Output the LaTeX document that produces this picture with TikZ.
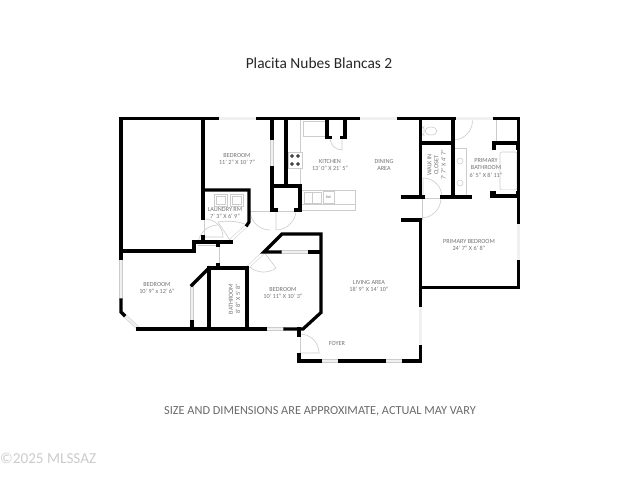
\documentclass[tikz,border=0pt]{standalone}
\usepackage{fontspec}
\setmainfont{Carlito}
\definecolor{lbl}{gray}{0.45}
\definecolor{fix}{gray}{0.80}
\tikzset{
 wall/.style={line width=3.2pt,black,line cap=rect,line join=miter},
 win/.style={draw=fix,line width=.5pt,double=black!6,double distance=2.6pt},
 jamb/.style={draw=fix,line width=.5pt,double=white,double distance=2pt},
 fixture/.style={draw=fix,line width=.6pt},
 room/.style={text=lbl,font=\fontsize{6.2}{7.2}\selectfont,align=center,inner sep=0pt},
}
\newcommand{\wn}[2]{\draw[win] (#1) -- (#2);}
\newcommand{\jb}[2]{\draw[jamb] (#1) -- (#2);}
\begin{document}
\begin{tikzpicture}[x=1pt,y=-1pt]
\useasboundingbox (0,0) rectangle (640,480);
\fill[white] (0,0) rectangle (640,480);
% windows
\wn{217,118.5}{258,118.5}
\wn{358,118.5}{399,118.5}
\wn{454,118.5}{495,118.5}
\wn{121,258}{121,300}
\wn{123,314}{138,328}
\wn{265,329}{285,329}
\wn{320,361}{340,361}
\wn{384,361}{404,361}
\wn{420.5,305}{420.5,347}
\wn{280,252}{310,252}
\wn{192,285}{192,322}
\wn{272,138}{272,168}
\wn{518.5,222}{518.5,262}
% door jamb lines
\jb{218,245}{218,265}
\jb{299,335}{299,355}
\jb{250,210}{272,210}
\jb{276,210}{296,210}
\jb{423,197}{442,197}
\jb{247,225}{231,240}
\jb{264,252}{247,268}
\jb{203,218}{203,237}
\jb{421,197}{421,220}
% door leaves
\begin{scope}[fixture]
\draw (296,210) arc[start angle=0,end angle=90,radius=20] -- (276,210);
\draw (342,138) -- (342,150) arc[start angle=90,end angle=180,radius=12];
\draw (423,197) -- (423,178) arc[start angle=-90,end angle=0,radius=19];
\draw (421,218) arc[start angle=90,end angle=0,radius=20];
\draw (453,120) -- (453,140) arc[start angle=90,end angle=0,radius=19.5];
\draw (250,210) arc[start angle=180,end angle=90,radius=20];
\draw (205,237) -- (223,237) arc[start angle=0,end angle=-90,radius=18];
\draw (230,240) -- (218,222);
\draw (218,222) .. controls (230,220) and (241,222) .. (247,225);
\draw (198,245) -- (218,245);
\draw (198,245) arc[start angle=180,end angle=270,radius=20];
\draw (264,252) -- (276,268);
\draw (276,268) .. controls (268,274) and (257,273) .. (250,267);
\draw (299,353) -- (319,353) arc[start angle=0,end angle=-90,radius=19];
% kitchen
\draw (300.7,120) -- (300.7,188);
\draw (303,121) rectangle (325,136);
\draw (301,190) rectangle (355,210);
\draw (301,204) -- (355,204);
\draw (304,192) rectangle (321,203);
\draw (312.5,192) -- (312.5,203);
\draw (323,191) rectangle (334,203);
% primary bath
\draw (454,148) rectangle (466,195);
\draw (460,161) circle[radius=3];
\draw (460,183) circle[radius=3];
\draw[rounded corners=2pt] (500,152) rectangle (517,190);
\draw (496,120) -- (496,141);
% laundry
\draw (214,194) rectangle (227,206);
\draw (230,194) rectangle (243,206);
\draw (216,196) rectangle (225,204);
\draw (232,196) rectangle (241,204);
% toilet
\draw[rounded corners=2pt] (421.5,127) rectangle (424,135);
\draw (431,131) ellipse[x radius=6,y radius=4];
\end{scope}
\node[inner sep=0pt,font=\fontsize{3.6}{4}\selectfont,text=lbl] (dw) at (328.5,197) {DW};
% stove
\draw[draw=fix,line width=.6pt,fill=white] (288,152) rectangle (302,168);
\foreach \x/\y in {292/156,298/156,292/164,298/164}{\draw[black,line width=.7pt] (\x,\y) circle[radius=1.4];}
% walls
\begin{scope}[wall]
\draw (217,118.5) -- (121,118.5) -- (121,258);
\draw (121,251) -- (194,251) -- (194,242) -- (231,242);
\draw (121,300) -- (121,312) -- (124,315);
\draw (138,329) -- (265,329);
\draw (285,329) -- (303,329) -- (321,312.5) -- (321,234) -- (282,234) -- (264,252) -- (280,252);
\draw (310,252) -- (320,252);
\draw (209,329) -- (209,268) -- (247,268) -- (247,329);
\draw (209,268) -- (192,285);
\draw (192,322) -- (192,329);
\draw (203,118.5) -- (203,218);
\draw (203,237) -- (203,242);
\draw (203,190) -- (249,190) -- (249,222) -- (247,225);
\draw (218,242) -- (218,245);
\draw (218,265) -- (218,268);
\draw (258,118.5) -- (358,118.5);
\draw (272,118.5) -- (272,138);
\draw (272,168) -- (272,210) -- (276,210);
\draw (286,118.5) -- (286,186);
\draw (272,186) -- (300,186) -- (300,210) -- (296,210);
\draw (327,118.5) -- (327,137.5) -- (330,137.5);
\draw (345,118.5) -- (345,137.5) -- (342,137.5);
\draw (399,118.5) -- (454,118.5);
\draw (495,118.5) -- (518.5,118.5) -- (518.5,222);
\draw (420.5,118.5) -- (420.5,197);
\draw (403,197) -- (423,197);
\draw (442,197) -- (470,197);
\draw (453,118.5) -- (453,197);
\draw (420.5,143) -- (453,143);
\draw (403,220) -- (420.5,220) -- (420.5,305);
\draw (420.5,287.5) -- (518.5,287.5) -- (518.5,262);
\draw (420.5,347) -- (420.5,361) -- (404,361);
\draw (384,361) -- (340,361);
\draw (320,361) -- (299,361) -- (299,355);
\draw (299,335) -- (299,329);
\end{scope}
\fill (492,141) rectangle (518,150);
\fill (490,191) rectangle (518,198);
\fill[white] (496,145) rectangle (516,150);
\fill[white] (496,190) rectangle (516,194);
% labels
\node[font=\fontsize{15.4}{18}\selectfont,text=black!85,inner sep=0pt] (title) at (319,63.5) {Placita Nubes Blancas 2};
\node[font=\fontsize{12.3}{14}\selectfont,text=black!58,inner sep=0pt] (note) at (320,411.5) {SIZE AND DIMENSIONS ARE APPROXIMATE, ACTUAL MAY VARY};
\node[font=\fontsize{15.2}{16}\selectfont,text=black!20,inner sep=0pt,anchor=west] (copy) at (0,458) {©2025 MLSSAZ};
\node[room] (r1) at (237,159) {BEDROOM\\11' 2" X 10' 7"};
\node[room] (r2) at (330,165) {KITCHEN\\13' 0" X 21' 5"};
\node[room] (r3) at (384,165) {DINING\\AREA};
\node[room,rotate=90] (r4) at (436.5,165) {WALK IN\\CLOSET\\7' 7" X 4' 7"};
\node[room] (r5) at (486,168) {PRIMARY\\BATHROOM\\6' 5" X 8' 11"};
\node[room] (r6) at (225,213) {LAUNDRY RM\\7' 3" X 6' 9"};
\node[room] (r7) at (469,245) {PRIMARY BEDROOM\\24' 7" X 6' 8"};
\node[room] (r8) at (369,286) {LIVING AREA\\18' 9" X 14' 10"};
\node[room] (r9) at (337,343.5) {FOYER};
\node[room] (r10) at (157,288) {BEDROOM\\10' 9" x 12' 6"};
\node[room] (r11) at (283,293) {BEDROOM\\10' 11" X 10' 3"};
\node[room,rotate=90] (r12) at (234.5,299) {BATHROOM\\8' 8" X 5' 8"};
\end{tikzpicture}
\end{document}
